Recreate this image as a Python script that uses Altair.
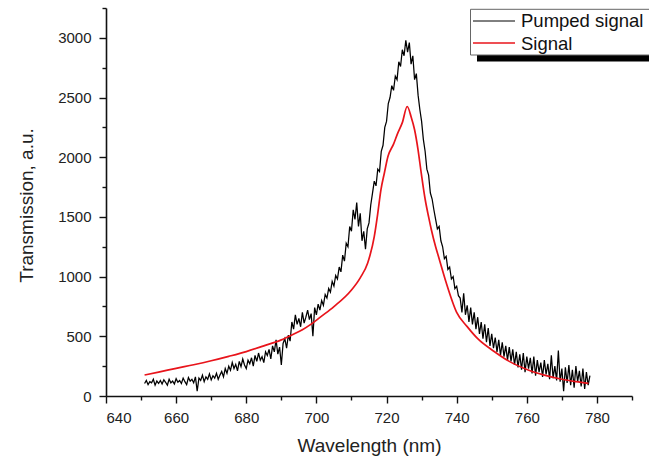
import altair as alt
import pandas as pd
import numpy as np

# ---------------- data ----------------
series_names = ["Pumped signal", "Signal"]

# Pumped signal (black, noisy), sampled every 0.5 nm from 651 to 778 nm
pumped_nm = [round(651.0 + 0.5 * i, 1) for i in range(255)]
pumped_values = [
    105, 130, 95, 120, 110, 140, 90, 125, 105, 130,          # 651-655.5
    100, 135, 115, 90, 140, 110, 125, 100, 145, 115,         # 656-660.5
    130, 105, 150, 120, 95, 155, 125, 140, 110, 160,         # 661-665.5
    40, 150, 130, 175, 120, 160, 140, 185, 135, 170,         # 666-670.5
    150, 190, 140, 175, 205, 160, 230, 190, 250, 215,        # 671-675.5
    280, 230, 265, 210, 290, 245, 310, 260, 230, 300,        # 676-680.5
    270, 320, 250, 340, 290, 360, 300, 330, 280, 370,        # 681-685.5
    340, 390, 310, 420, 370, 470, 350, 410, 260, 440,        # 686-690.5
    480, 400, 510, 460, 620, 560, 680, 600, 650, 580,        # 691-695.5
    700, 610, 660, 720, 640, 690, 500, 740, 680, 770,        # 696-700.5
    720, 800, 760, 850, 820, 900, 870, 960, 920, 1010,       # 701-705.5
    980, 1080, 1040, 1180, 1130, 1280, 1250, 1420, 1380, 1560,   # 706-710.5
    1480, 1620, 1420, 1530, 1300, 1380, 1230, 1400, 1450, 1600,  # 711-715.5
    1700, 1800, 1760, 1900, 1880, 2050, 2100, 2250, 2300, 2450,  # 716-720.5
    2500, 2600, 2560, 2680, 2650, 2800, 2760, 2900, 2850, 2980,  # 721-725.5
    2880, 2960, 2780, 2850, 2650, 2700, 2520, 2400, 2300, 2150,  # 726-730.5
    2050, 1900, 1850, 1700, 1650, 1560, 1480, 1400, 1420, 1300,  # 731-735.5
    1250, 1150, 1170, 1060, 1080, 980, 1000, 900, 920, 840,      # 736-740.5
    820, 700, 860, 680, 760, 620, 740, 600, 700, 560,        # 741-745.5
    660, 520, 620, 480, 600, 450, 570, 420, 520, 400,        # 746-750.5
    490, 370, 470, 340, 450, 330, 420, 300, 410, 290,        # 751-755.5
    390, 260, 370, 240, 350, 220, 360, 200, 330, 230,        # 756-760.5
    320, 190, 330, 170, 300, 200, 280, 160, 300, 180,        # 761-765.5
    270, 140, 340, 150, 250, 130, 380, 120, 230, 40,         # 766-770.5
    240, 110, 260, 90, 220, 70, 250, 120, 210, 80,           # 771-775.5
    230, 60, 200, 90, 170,                                   # 776-778
]

# Signal (red, smooth)
signal_nm = [651, 655, 660, 665, 670, 675, 680, 685, 690, 693, 696, 698.4,
             701.3, 705, 710, 712.5, 714.6, 716.5, 717.5, 718.4, 719.4, 720.4,
             722, 723.2, 724.5, 725.9, 727, 728, 729, 729.9, 731, 732, 732.8,
             734, 735, 737, 740, 743, 746, 750.8, 755, 760.4, 765, 770, 774, 777.6]
signal_values = [176, 200, 232, 262, 295, 332, 372, 420, 470, 511, 555, 600,
                 665, 749, 888, 990, 1112, 1335, 1530, 1727, 1870, 2006,
                 2110, 2202, 2290, 2425, 2340, 2230, 2060, 1867, 1650, 1500, 1391,
                 1250, 1150, 950, 700, 581, 480, 371, 290, 218, 175, 140, 120, 105]

major_x = [640, 660, 680, 700, 720, 740, 760, 780]
minor_x = [650, 670, 690, 710, 730, 750, 770, 790]
major_y = [0, 500, 1000, 1500, 2000, 2500, 3000]
minor_y = [250, 750, 1250, 1750, 2250, 2750, 3250]

pumped_df = pd.DataFrame({"nm": pumped_nm, "val": pumped_values})
signal_df = pd.DataFrame({"nm": signal_nm, "val": signal_values})

# ---------------- styling ----------------
FONT = "Liberation Sans"
W, H = 526, 388
xscale = alt.Scale(domain=[640, 790], nice=False, zero=False)
yscale = alt.Scale(domain=[0, 3250], nice=False, zero=False)
RED = "#e8141b"

common_axis = dict(grid=False, domainColor="#111", domainWidth=1.6,
                   tickColor="#111", tickWidth=1.4,
                   labelFont=FONT, labelFontSize=15, labelColor="#222",
                   titleFont=FONT, titleFontSize=19, titleFontWeight="normal",
                   titleColor="#222")

black = alt.Chart(pumped_df).mark_line(color="black", strokeWidth=1.25).encode(
    x=alt.X("nm:Q", scale=xscale,
            axis=alt.Axis(values=major_x, title="Wavelength (nm)", orient="bottom",
                          format="d", tickSize=7, labelPadding=7,
                          titleBaseline="alphabetic", titleY=55.5, **common_axis)),
    y=alt.Y("val:Q", scale=yscale,
            axis=alt.Axis(values=major_y, title="Transmission, a.u.", orient="left",
                          format="d", tickSize=7, labelPadding=8,
                          titleBaseline="alphabetic", titleX=-74, titleY=197,
                          titleAngle=270, **common_axis)),
)

red = alt.Chart(signal_df).mark_line(color=RED, strokeWidth=1.7,
                                     interpolate="monotone").encode(
    x=alt.X("nm:Q", scale=xscale,
            axis=alt.Axis(values=minor_x, title=None, orient="bottom", labels=False,
                          domain=False, tickSize=4, tickColor="#111", tickWidth=1.4,
                          grid=False)),
    y=alt.Y("val:Q", scale=yscale,
            axis=alt.Axis(values=minor_y, title=None, orient="left", labels=False,
                          domain=False, tickSize=4, tickColor="#111", tickWidth=1.4,
                          grid=False)),
)

# ---------------- legend (Origin style box with shadow) ----------------
leg_df = pd.DataFrame({"name": series_names})
shadow = alt.Chart(leg_df.head(1)).mark_rect(color="black").encode(
    x=alt.value(371), x2=alt.value(560), y=alt.value(46), y2=alt.value(53.5))
box = alt.Chart(leg_df.head(1)).mark_rect(fill="white", stroke="#666",
                                           strokeWidth=1).encode(
    x=alt.value(364.5), x2=alt.value(560), y=alt.value(1.3), y2=alt.value(47))
line1 = alt.Chart(leg_df.head(1)).mark_rule(color="black", strokeWidth=1).encode(
    x=alt.value(367), x2=alt.value(409), y=alt.value(13))
line2 = alt.Chart(leg_df.head(1)).mark_rule(color=RED, strokeWidth=1.5).encode(
    x=alt.value(367), x2=alt.value(409), y=alt.value(35))
text1 = alt.Chart(leg_df.iloc[[0]]).mark_text(
    align="left", baseline="alphabetic", font=FONT, fontSize=18.5, color="#111").encode(
    x=alt.value(415), y=alt.value(18.7), text="name:N")
text2 = alt.Chart(leg_df.iloc[[1]]).mark_text(
    align="left", baseline="alphabetic", font=FONT, fontSize=18.5, color="#111").encode(
    x=alt.value(415), y=alt.value(42), text="name:N")

chart = alt.layer(black, red, shadow, box, line1, line2, text1, text2).resolve_axis(
    x="independent", y="independent"
).properties(
    width=W, height=H,
    padding={"left": 106, "top": 8, "right": 17, "bottom": 61},
    autosize=alt.AutoSizeParams(type="none"),
    background="white",
).configure_view(stroke=None)

chart.save("out.html", embed_options={"renderer": "svg", "actions": False})
